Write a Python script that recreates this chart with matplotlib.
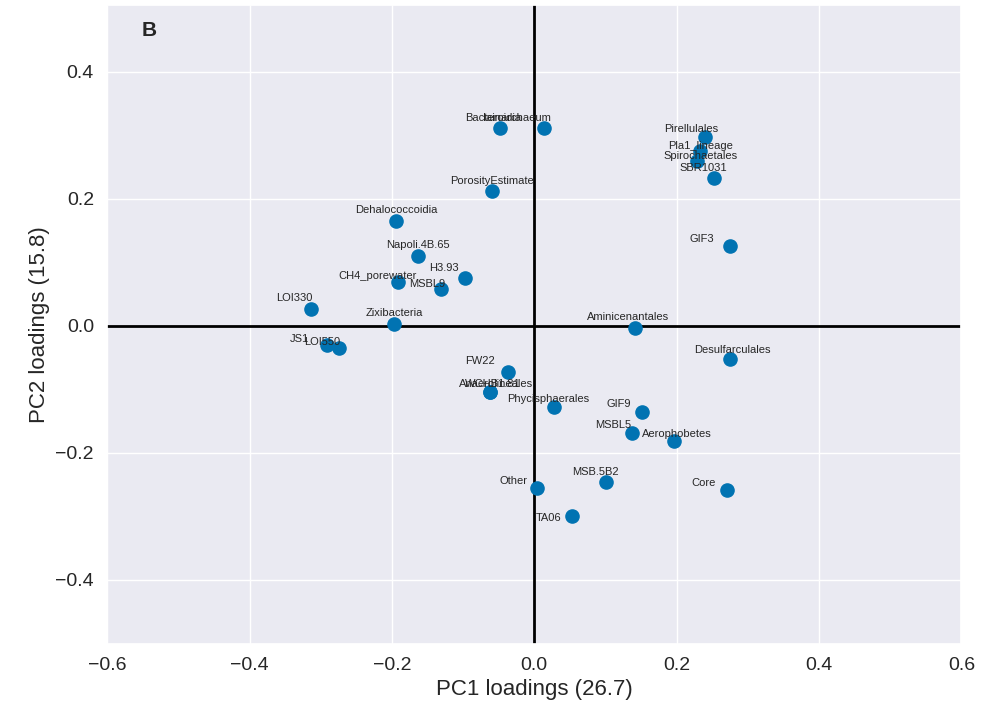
import matplotlib
matplotlib.use("Agg")
import matplotlib.pyplot as plt
import seaborn as sns

labels = ["Bacteroidia","Iainarchaeum","Pirellulales","Pla1_lineage","Spirochaetales","SBR1031",
          "PorosityEstimate","Dehalococcoidia","GIF3","Napoli.4B.65","H3.93","CH4_porewater","MSBL9",
          "LOI330","Zixibacteria","Aminicenantales","JS1","LOI550","Desulfarculales","FW22",
          "WCHB1.81","Anaerolineales","Phycisphaerales","GIF9","MSBL5","Aerophobetes","Other",
          "MSB.5B2","Core","TA06"]
pc1 = [-0.048,0.014,0.240,0.233,0.228,0.253,-0.059,-0.194,0.275,-0.163,-0.097,-0.191,-0.131,
       -0.313,-0.197,0.142,-0.291,-0.274,0.275,-0.037,-0.062,-0.062,0.028,0.152,0.138,0.197,0.004,
       0.101,0.271,0.053]
pc2 = [0.311,0.311,0.298,0.276,0.259,0.232,0.212,0.165,0.125,0.110,0.075,0.069,0.058,
       0.027,0.003,-0.003,-0.030,-0.035,-0.052,-0.072,-0.104,-0.104,-0.127,-0.136,-0.168,-0.182,
       -0.256,-0.245,-0.259,-0.300]
offs = {"Bacteroidia":(-5,4),"Iainarchaeum":(-20,4),"Pirellulales":(-10,2),"Pla1_lineage":(0,0),
        "Spirochaetales":(3,0),"SBR1031":(-8,4),"GIF3":(-20,2),"H3.93":(-15,4),"CH4_porewater":(-15,1),
        "MSBL9":(-10,0),"LOI330":(-12,4),"JS1":(-20,1),"LOI550":(-12,1),"Aminicenantales":(-5,4),
        "Desulfarculales":(2,3),"FW22":(-20,4),"WCHB1.81":(2,2),"Anaerolineales":(4,2),
        "Phycisphaerales":(-4,2),"GIF9":(-17,2),"MSBL5":(-14,2),"Aerophobetes":(2,2),"Other":(-17,2),
        "MSB.5B2":(-8,3),"Core":(-17,2),"TA06":(-17,-5)}

sns.set_theme(style="darkgrid")
plt.rcParams['font.family'] = ['Liberation Sans', 'DejaVu Sans']
fig, ax = plt.subplots(figsize=(9.83,7.19), dpi=100)
fig.subplots_adjust(left=0.109, right=0.978, top=0.993, bottom=0.105)
ax.scatter(pc1, pc2, s=90, color="#0173B2", zorder=3)
for l, x, y in zip(labels, pc1, pc2):
    dx, dy = offs.get(l, (0, 4))
    ax.annotate(l, (x, y), xytext=(dx, dy), textcoords="offset points", ha="center",
                va="bottom", fontsize=8, color="#262626", zorder=4)
ax.axhline(0, color="black", lw=2)
ax.axvline(0, color="black", lw=2)
ax.set_xlim(-0.6, 0.6)
ax.set_ylim(-0.5, 0.505)
ax.set_xticks([-0.6,-0.4,-0.2,0.0,0.2,0.4,0.6])
ax.set_yticks([-0.4,-0.2,0.0,0.2,0.4])
ax.tick_params(labelsize=14)
ax.set_xlabel("PC1 loadings (26.7)", fontsize=16)
ax.set_ylabel("PC2 loadings (15.8)", fontsize=16)
ax.text(0.04, 0.96, "B", transform=ax.transAxes, fontsize=15, fontweight="bold", va="center")
fig.savefig("out.png")
